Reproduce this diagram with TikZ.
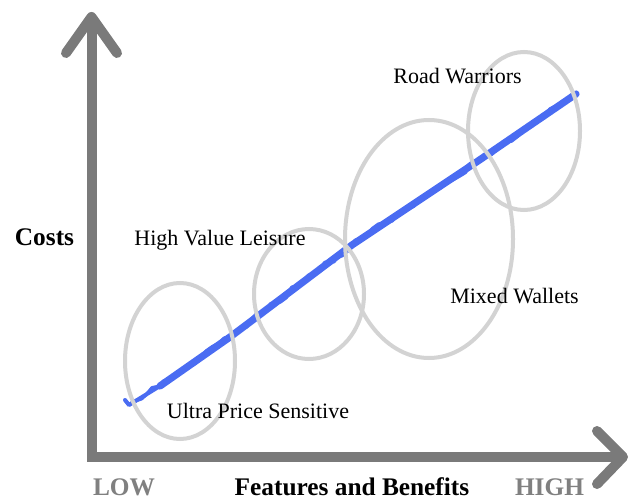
\documentclass[tikz,border=0pt]{standalone}
\usepackage{fontspec}
\setmainfont{Liberation Serif}
\usetikzlibrary{shapes.geometric,decorations.pathmorphing}
\definecolor{axisgray}{HTML}{7A7A7A}
\definecolor{labelgray}{HTML}{808080}
\definecolor{ringgray}{HTML}{D3D3D3}
\definecolor{trendblue}{HTML}{4A6CF2}
\tikzset{
  axisline/.style={draw=axisgray, line width=7.5pt},
  axishead/.style={draw=axisgray, line width=7.5pt, line cap=round, line join=round},
  ring/.style={ellipse, draw=ringgray, line width=3pt, inner sep=0pt},
  trendcore/.style={draw=trendblue, line width=5.4pt, line cap=round, line join=round},
  trendedge/.style={draw=trendblue, line width=2.6pt, line cap=round, line join=round,
    decorate, decoration={random steps, segment length=5pt, amplitude=2pt}},
  trendthin/.style={draw=trendblue, line width=3pt, line cap=round, line join=round},
  seglabel/.style={font=\fontsize{16.5}{18}\selectfont, anchor=base, inner sep=0pt},
  axislabel/.style={font=\fontsize{19}{21}\selectfont\bfseries, anchor=base, inner sep=0pt},
}
\begin{document}
\begin{tikzpicture}[x=0.75pt,y=-0.75pt]
\useasboundingbox (0,0) rectangle (631,499);
\pgfmathsetseed{7}
% axes
\coordinate (ytip) at (91.5,17);
\coordinate (origin) at (91.5,457);
\coordinate (xtip) at (623,457);
\coordinate (yarmL) at (66,53);
\coordinate (yarmR) at (117,53);
\coordinate (xarmU) at (597,431);
\coordinate (xarmD) at (597,484);
\draw[axisline, line join=miter] (ytip) -- (origin) -- (xtip);
\draw[axishead] (yarmL) -- (ytip) -- (yarmR);
\draw[axishead] (xarmU) -- (xtip) -- (xarmD);
% trend line
\coordinate (t0) at (125,400);
\coordinate (t1) at (129,405);
\coordinate (t2) at (160,386);
\coordinate (t3) at (230,337);
\coordinate (t4) at (262,313);
\coordinate (t5) at (352,245);
\coordinate (t6) at (478,161);
\coordinate (t7) at (576,94);
\draw[trendthin] (t0) -- (t1) -- (t2);
\draw[trendcore] (t2) -- (t3) -- (t4) -- (t5) -- (t6) -- (t7);
\draw[trendedge] (t1) -- (t2) -- (t3) -- (t4) -- (t5) -- (t6) -- (t7);
% segment rings
\node[ring, minimum width=82.5pt, minimum height=117pt] (ultra) at (180,361) {};
\node[ring, minimum width=82.5pt, minimum height=97.5pt] (leisure) at (309,294) {};
\node[ring, minimum width=126pt, minimum height=178.5pt] (mixed) at (429,239) {};
\node[ring, minimum width=84pt, minimum height=118.5pt] (road) at (524,131) {};
% labels
\node[seglabel] (roadlbl) at (457.5,84) {Road Warriors};
\node[seglabel] (leisurelbl) at (220,245) {High Value Leisure};
\node[seglabel] (mixedlbl) at (514.5,303.5) {Mixed Wallets};
\node[seglabel] (ultralbl) at (258,418) {Ultra Price Sensitive};
\node[axislabel] (costs) at (44.5,245.5) {Costs};
\node[axislabel, text=labelgray] (low) at (124,495.5) {LOW};
\node[axislabel] (features) at (352,495.5) {Features and Benefits};
\node[axislabel, text=labelgray] (high) at (549.5,495.5) {HIGH};
\end{tikzpicture}
\end{document}
